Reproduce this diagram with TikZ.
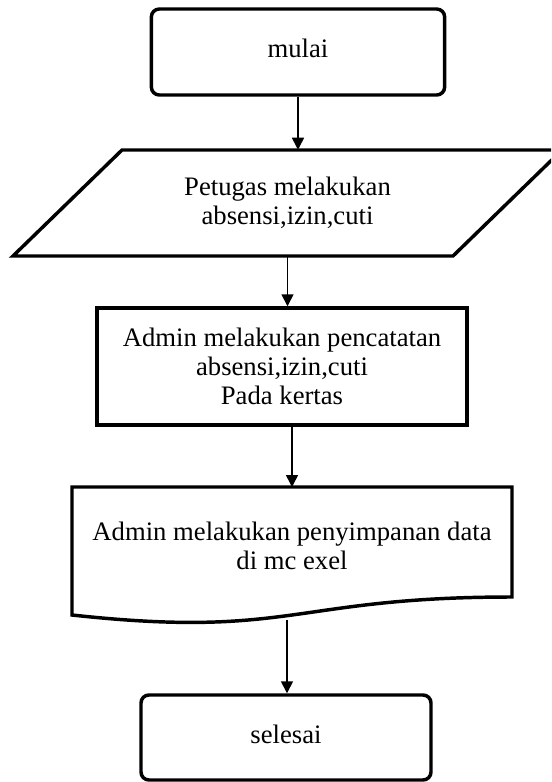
\documentclass[tikz,border=0pt]{standalone}
\usepackage{fontspec}
\setmainfont{Liberation Serif}
\usetikzlibrary{arrows.meta}

\tikzset{
  kotak/.style={draw, line width=2.6pt, align=center, inner sep=0pt},
  mulaiselesai/.style={kotak, rounded corners=6pt},
  teks/.style={align=center, inner sep=0pt},
  panah/.style={line width=1.2pt, -{Triangle[length=9pt,width=9pt]}}
}

\begin{document}
\begin{tikzpicture}[x=0.75pt,y=0.75pt,yscale=-1,xscale=1,
  every node/.style={font=\fontsize{20}{22}\selectfont}]
\clip (0,0) rectangle (551,782);

%Terminal: mulai
\node [mulaiselesai, minimum width=220pt, minimum height=64.5pt] (mulai) at (298,52) {\raisebox{6pt}{mulai}};

%Shape: Parallelogram [input]
\draw [line width=2.6pt, line join=miter] (122,150) -- (562,150) -- (453,256) -- (13,256) -- cycle ;
% Text Node
\node [teks, minimum height=79.5pt] (input) at (287.5,203) {Petugas melakukan\\absensi,izin,cuti};

%Rect: proses
\node [kotak, minimum width=277.5pt, minimum height=87.75pt] (catat) at (282,366.5) {Admin melakukan pencatatan\\absensi,izin,cuti\\Pada kertas};

%Shape: Document
\draw [line width=2.6pt, line join=miter] (72,487) -- (512,487) -- (512,597) .. controls (292,597) and (292,639) .. (72,615) -- cycle ;
% Text Node
\node [teks] (simpan) at (292,546) {Admin melakukan penyimpanan data\\di mc exel};
\coordinate (simpanAtas) at (292,487);
\coordinate (simpanBawah) at (287,620);

%Terminal: selesai
\node [mulaiselesai, minimum width=217.5pt, minimum height=63.75pt] (selesai) at (286,737.5) {\raisebox{5pt}{selesai}};

% Arrows
\draw [panah] (mulai.south) -- (mulai.south |- input.north);
\draw [panah] (input.south) -- (input.south |- catat.north);
\draw [panah] (catat.south -| simpanAtas) -- (simpanAtas);
\draw [panah] (simpanBawah) -- (simpanBawah |- selesai.north);

\end{tikzpicture}
\end{document}
